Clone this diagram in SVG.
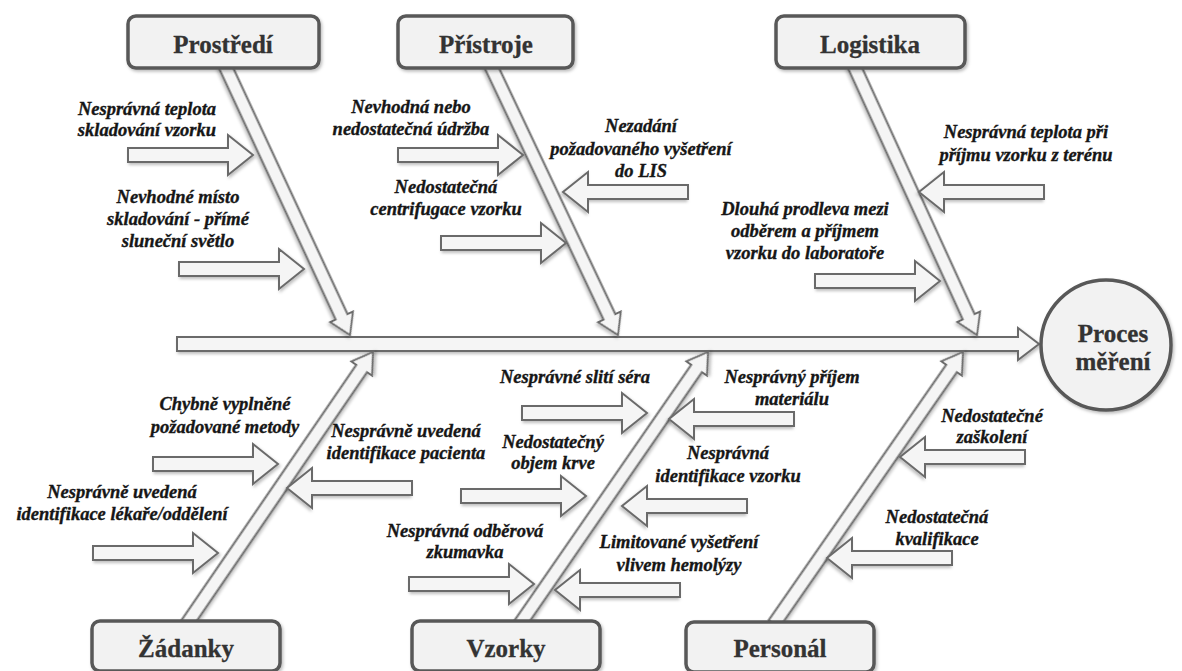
<svg xmlns="http://www.w3.org/2000/svg" xmlns:xlink="http://www.w3.org/1999/xlink" width="1182" height="671" viewBox="0 0 1182 671">
  <style>
    .box { fill: #f2f2f2; stroke: #585858; stroke-width: 3.5; filter: url(#shadow); }
    .arrow { fill: #f5f5f5; stroke: #6a6a6a; stroke-width: 2; stroke-linejoin: miter; filter: url(#shadow); }
    text { font-family: 'Liberation Serif', 'DejaVu Serif', 'Times New Roman', serif; font-weight: 700; text-anchor: middle; }
    .cat { font-size: 25px; fill: #333333; stroke: #333333; stroke-width: 0.3; }
    .cause { font-style: italic; font-size: 18.5px; fill: #161616; stroke: #161616; stroke-width: 0.35; }
  </style>
  <defs>
    <filter id="shadow" x="-10%" y="-10%" width="130%" height="140%">
      <feDropShadow dx="1.5" dy="2" stdDeviation="1.5" flood-color="#000000" flood-opacity="0.25"/>
    </filter>
    <!-- hollow cause arrow, tail at x=0, tip at x=125 -->
    <path id="cause-arrow" d="M0,-7 H100 V-20 L125,0 L100,20 V7 H0 Z"/>
  </defs>

  <rect width="1182" height="671" fill="#ffffff"/>

  <!-- connectors: main spine, category bones and cause arrows -->
  <g id="connectors">
    <!-- main spine -->
    <path class="arrow" d="M177,337 H1018 V328 L1039,344 L1018,360 V351 H177 Z"/>

    <!-- category bones (tip at origin, pointing along +x) -->
    <path class="arrow" transform="translate(350,335) rotate(65.1)" d="M0,0 L-20,-12.5 L-20,-6.5 L-298,-6.5 L-298,6.5 L-20,6.5 L-20,12.5 Z"/>
    <path class="arrow" transform="translate(618,335) rotate(64.7)" d="M0,0 L-20,-12.5 L-20,-6.5 L-299,-6.5 L-299,6.5 L-20,6.5 L-20,12.5 Z"/>
    <path class="arrow" transform="translate(977,335) rotate(65.45)" d="M0,0 L-20,-12.5 L-20,-6.5 L-297,-6.5 L-297,6.5 L-20,6.5 L-20,12.5 Z"/>
    <path class="arrow" transform="translate(373,352) rotate(-55.6)" d="M0,0 L-20,-12.5 L-20,-6.5 L-330,-6.5 L-330,6.5 L-20,6.5 L-20,12.5 Z"/>
    <path class="arrow" transform="translate(708,352) rotate(-55.34)" d="M0,0 L-20,-12.5 L-20,-6.5 L-331,-6.5 L-331,6.5 L-20,6.5 L-20,12.5 Z"/>
    <path class="arrow" transform="translate(963,352) rotate(-55.2)" d="M0,0 L-20,-12.5 L-20,-6.5 L-331,-6.5 L-331,6.5 L-20,6.5 L-20,12.5 Z"/>

    <!-- cause arrows pointing right -->
    <use xlink:href="#cause-arrow" class="arrow" transform="translate(128,155)"/>
    <use xlink:href="#cause-arrow" class="arrow" transform="translate(179,269)"/>
    <use xlink:href="#cause-arrow" class="arrow" transform="translate(398,155)"/>
    <use xlink:href="#cause-arrow" class="arrow" transform="translate(441,243)"/>
    <use xlink:href="#cause-arrow" class="arrow" transform="translate(815,281)"/>
    <use xlink:href="#cause-arrow" class="arrow" transform="translate(153,464)"/>
    <use xlink:href="#cause-arrow" class="arrow" transform="translate(93,553)"/>
    <use xlink:href="#cause-arrow" class="arrow" transform="translate(522,413)"/>
    <use xlink:href="#cause-arrow" class="arrow" transform="translate(461,496)"/>
    <use xlink:href="#cause-arrow" class="arrow" transform="translate(409,584)"/>

    <!-- cause arrows pointing left -->
    <use xlink:href="#cause-arrow" class="arrow" transform="translate(688,192) scale(-1,1)"/>
    <use xlink:href="#cause-arrow" class="arrow" transform="translate(1044,192) scale(-1,1)"/>
    <use xlink:href="#cause-arrow" class="arrow" transform="translate(412,488) scale(-1,1)"/>
    <use xlink:href="#cause-arrow" class="arrow" transform="translate(794,419) scale(-1,1)"/>
    <use xlink:href="#cause-arrow" class="arrow" transform="translate(747,506) scale(-1,1)"/>
    <use xlink:href="#cause-arrow" class="arrow" transform="translate(680,590) scale(-1,1)"/>
    <use xlink:href="#cause-arrow" class="arrow" transform="translate(1025,457) scale(-1,1)"/>
    <use xlink:href="#cause-arrow" class="arrow" transform="translate(952,558) scale(-1,1)"/>
  </g>

  <!-- category boxes -->
  <g id="prostredi">
    <rect class="box" x="128" y="16" width="191" height="52" rx="8"/>
    <text class="cat" x="223" y="53">Prostředí</text>
  </g>
  <g id="pristroje">
    <rect class="box" x="398" y="16" width="175" height="52" rx="8"/>
    <text class="cat" x="486" y="53">Přístroje</text>
  </g>
  <g id="logistika">
    <rect class="box" x="776" y="16" width="189" height="52" rx="8"/>
    <text class="cat" x="870" y="53">Logistika</text>
  </g>
  <g id="zadanky">
    <rect class="box" x="92" y="621" width="188" height="50" rx="8"/>
    <text class="cat" x="186" y="657">Žádanky</text>
  </g>
  <g id="vzorky">
    <rect class="box" x="412" y="621" width="188" height="50" rx="8"/>
    <text class="cat" x="506" y="657">Vzorky</text>
  </g>
  <g id="personal">
    <rect class="box" x="686" y="622" width="188" height="50" rx="8"/>
    <text class="cat" x="780" y="657">Personál</text>
  </g>

  <!-- effect -->
  <g id="proces-mereni">
    <circle class="box" cx="1106" cy="345" r="65"/>
    <text class="cat" x="1113" y="342">Proces</text>
    <text class="cat" x="1113" y="370">měření</text>
  </g>

  <!-- cause labels -->
  <g id="causes">
    <text class="cause" x="147" y="115">Nesprávná teplota</text>
    <text class="cause" x="147" y="136">skladování vzorku</text>

    <text class="cause" x="178" y="203">Nevhodné místo</text>
    <text class="cause" x="178" y="225">skladování - přímé</text>
    <text class="cause" x="178" y="247">sluneční světlo</text>

    <text class="cause" x="411" y="113">Nevhodná nebo</text>
    <text class="cause" x="411" y="135">nedostatečná údržba</text>

    <text class="cause" x="446" y="193">Nedostatečná</text>
    <text class="cause" x="446" y="215">centrifugace vzorku</text>

    <text class="cause" x="641" y="132">Nezadání</text>
    <text class="cause" x="641" y="155">požadovaného vyšetření</text>
    <text class="cause" x="641" y="177">do LIS</text>

    <text class="cause" x="1026" y="138">Nesprávná teplota při</text>
    <text class="cause" x="1026" y="161">příjmu vzorku z terénu</text>

    <text class="cause" x="805" y="215">Dlouhá prodleva mezi</text>
    <text class="cause" x="805" y="237">odběrem a příjmem</text>
    <text class="cause" x="805" y="259">vzorku do laboratoře</text>

    <text class="cause" x="225" y="410">Chybně vyplněné</text>
    <text class="cause" x="225" y="433">požadované metody</text>

    <text class="cause" x="406" y="437">Nesprávně uvedená</text>
    <text class="cause" x="406" y="459">identifikace pacienta</text>

    <text class="cause" x="122" y="498">Nesprávně uvedená</text>
    <text class="cause" x="122" y="520">identifikace lékaře/oddělení</text>

    <text class="cause" x="575" y="383">Nesprávné slití séra</text>

    <text class="cause" x="792" y="383">Nesprávný příjem</text>
    <text class="cause" x="792" y="405">materiálu</text>

    <text class="cause" x="553" y="448">Nedostatečný</text>
    <text class="cause" x="553" y="469">objem krve</text>

    <text class="cause" x="728" y="459">Nesprávná</text>
    <text class="cause" x="728" y="482">identifikace vzorku</text>

    <text class="cause" x="465" y="537">Nesprávná odběrová</text>
    <text class="cause" x="465" y="558">zkumavka</text>

    <text class="cause" x="679" y="548">Limitované vyšetření</text>
    <text class="cause" x="679" y="571">vlivem hemolýzy</text>

    <text class="cause" x="992" y="422">Nedostatečné</text>
    <text class="cause" x="992" y="443">zaškolení</text>

    <text class="cause" x="937" y="523">Nedostatečná</text>
    <text class="cause" x="937" y="545">kvalifikace</text>
  </g>
</svg>
